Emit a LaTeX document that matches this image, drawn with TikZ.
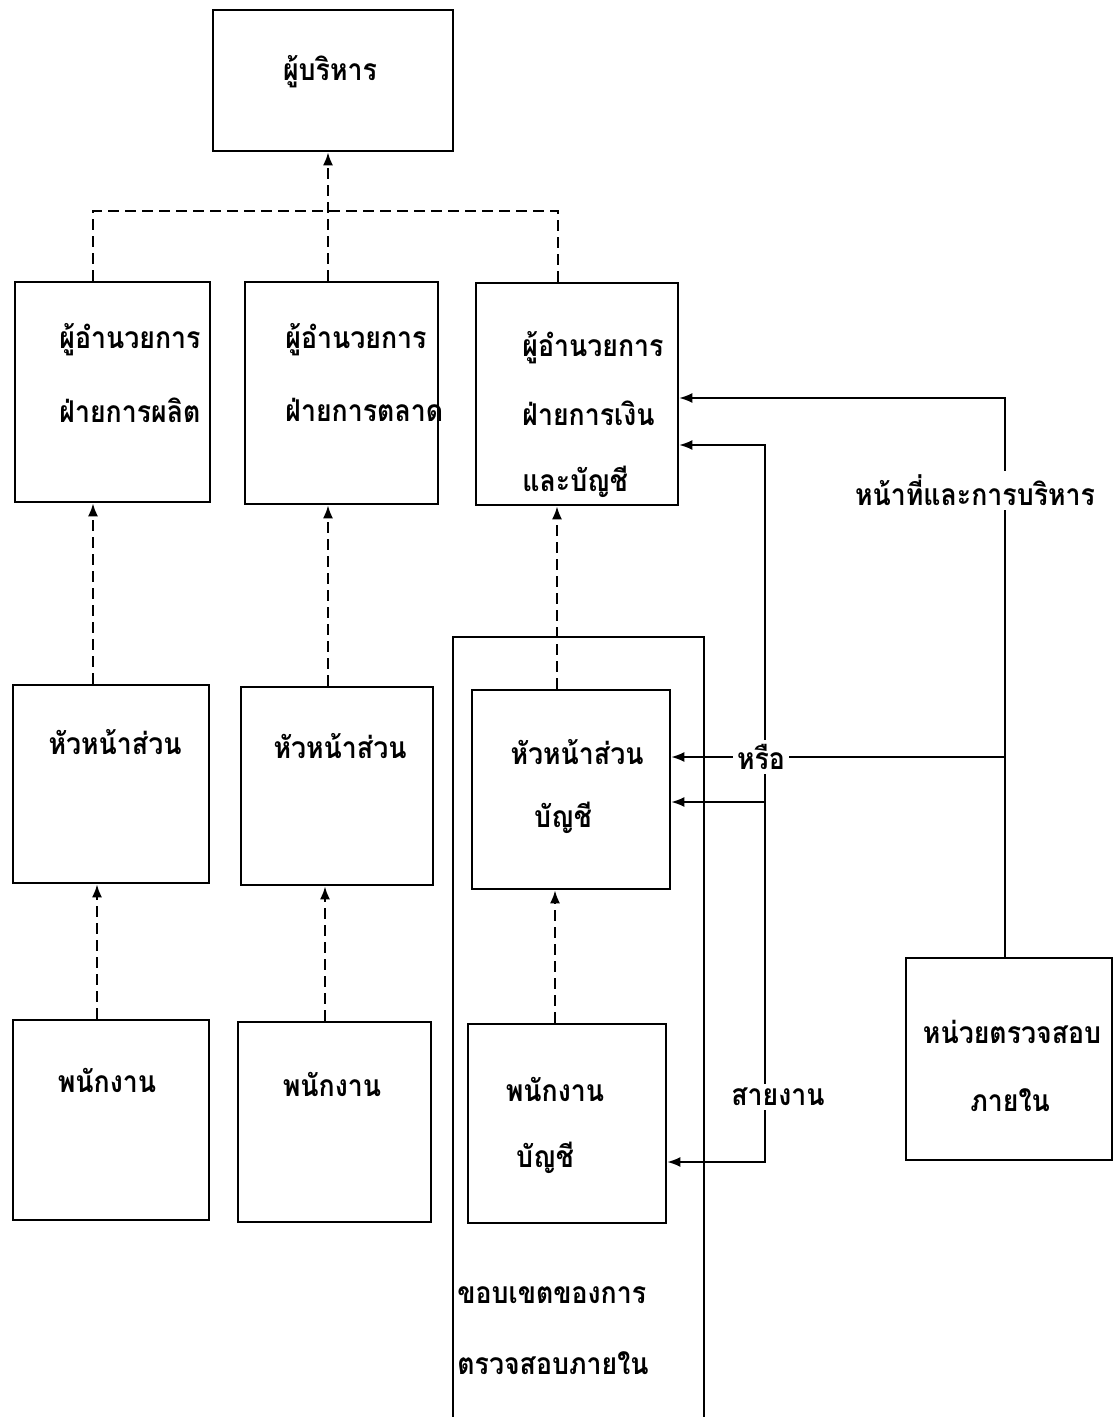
\documentclass[tikz,border=0pt]{standalone}
\usepackage{fontspec}
\setmainfont{Loma}[Script=Thai, FakeStretch=0.89]
\usetikzlibrary{arrows.meta,fit}
\tikzset{
  box/.style={draw, line width=1.3pt, inner sep=0pt},
  dsh/.style={line width=1.1pt, dash pattern=on 5.5pt off 3pt},
  ln/.style={line width=0.9pt},
  arr/.style={-{Latex[length=6.5pt,width=5pt]}},
  txt/.style={font=\bfseries\fontsize{15}{18}\selectfont, inner sep=1pt},
  lbl/.style={txt, fill=white, inner sep=2pt}
}
\begin{document}
\begin{tikzpicture}[x={(0.5pt,0)}, y={(0,-0.5pt)}]
\useasboundingbox (0,0) rectangle (1115,1417);
% boxes
\node[box, fit={(213,10) (453,151)}] (top) {};
\node[box, fit={(15,282) (210,502)}] (b1) {};
\node[box, fit={(245,282) (438,504)}] (b2) {};
\node[box, fit={(476,283) (678,505)}] (b3) {};
\node[box, fit={(13,685) (209,883)}] (b4) {};
\node[box, fit={(241,687) (433,885)}] (b5) {};
\node[box, fit={(472,690) (670,889)}] (b6) {};
\node[box, fit={(13,1020) (209,1220)}] (b7) {};
\node[box, fit={(238,1022) (431,1222)}] (b8) {};
\node[box, fit={(468,1024) (666,1223)}] (b9) {};
\node[box, fit={(906,958) (1112,1160)}] (b10) {};
% scope frame
\draw[line width=1.3pt] (453,1420) -- (453,637) -- (704,637) -- (704,1420);
% texts
\node[txt] (t0) at (330,72) {ผู้บริหาร};
\node[txt, anchor=west] (t1a) at (57,340) {ผู้อำนวยการ};
\node[txt, anchor=west] (t1b) at (57,410) {ฝ่ายการผลิต};
\node[txt, anchor=west] (t2a) at (283,340) {ผู้อำนวยการ};
\node[txt, anchor=west] (t2b) at (283,410) {ฝ่ายการตลาด};
\node[txt, anchor=west] (t3a) at (520,348) {ผู้อำนวยการ};
\node[txt, anchor=west] (t3b) at (520,413) {ฝ่ายการเงิน};
\node[txt, anchor=west] (t3c) at (520,482) {และบัญชี};
\node[txt] (t4) at (115,742) {หัวหน้าส่วน};
\node[txt] (t5) at (340,746) {หัวหน้าส่วน};
\node[txt] (t6a) at (577,752) {หัวหน้าส่วน};
\node[txt] (t6b) at (563,818) {บัญชี};
\node[txt] (t7) at (107,1080) {พนักงาน};
\node[txt] (t8) at (332,1084) {พนักงาน};
\node[txt] (t9a) at (555,1089) {พนักงาน};
\node[txt] (t9b) at (545,1158) {บัญชี};
\node[txt] (t10a) at (1012,1032) {หน่วยตรวจสอบ};
\node[txt] (t10b) at (1010,1100) {ภายใน};
\node[txt, anchor=west] (s1) at (455,1295) {ขอบเขตของการ};
\node[txt, anchor=west] (s2) at (455,1363) {ตรวจสอบภายใน};
% dashed hierarchy
\draw[dsh] (b1.north -| 93,0) -- (93,211) -- (558,211) -- (b3.north -| 558,0);
\draw[dsh, arr] (b2.north -| 328,0) -- (top.south -| 328,0);
\draw[dsh, arr] (b4.north -| 93,0) -- (b1.south -| 93,0);
\draw[dsh, arr] (b5.north -| 328,0) -- (b2.south -| 328,0);
\draw[dsh, arr] (b6.north -| 557,0) -- (b3.south -| 557,0);
\draw[dsh, arr] (b7.north -| 97,0) -- (b4.south -| 97,0);
\draw[dsh, arr] (b8.north -| 325,0) -- (b5.south -| 325,0);
\draw[dsh, arr] (b9.north -| 555,0) -- (b6.south -| 555,0);
% right side connectors
\coordinate (j1) at (1005,757);
\coordinate (j2) at (765,802);
\draw[ln, arr] (b10.north -| 1005,0) -- (1005,398) -- (b3.east |- 0,398);
\draw[ln, arr] (j2) -- (765,445) -- (b3.east |- 0,445);
\draw[ln, arr] (j2) -- (765,1162) -- (b9.east |- 0,1162);
\draw[ln, arr] (j2) -- (b6.east |- j2);
\node[lbl] (lab2) at (761,757) {หรือ};
\draw[ln] (j1) -- (lab2.east);
\draw[ln, arr] (lab2.west) -- (b6.east |- lab2.west);
\node[lbl] (lab1) at (975,490) {หน้าที่และการบริหาร};
\node[lbl] (lab3) at (778,1097) {สายงาน};
\end{tikzpicture}
\end{document}
